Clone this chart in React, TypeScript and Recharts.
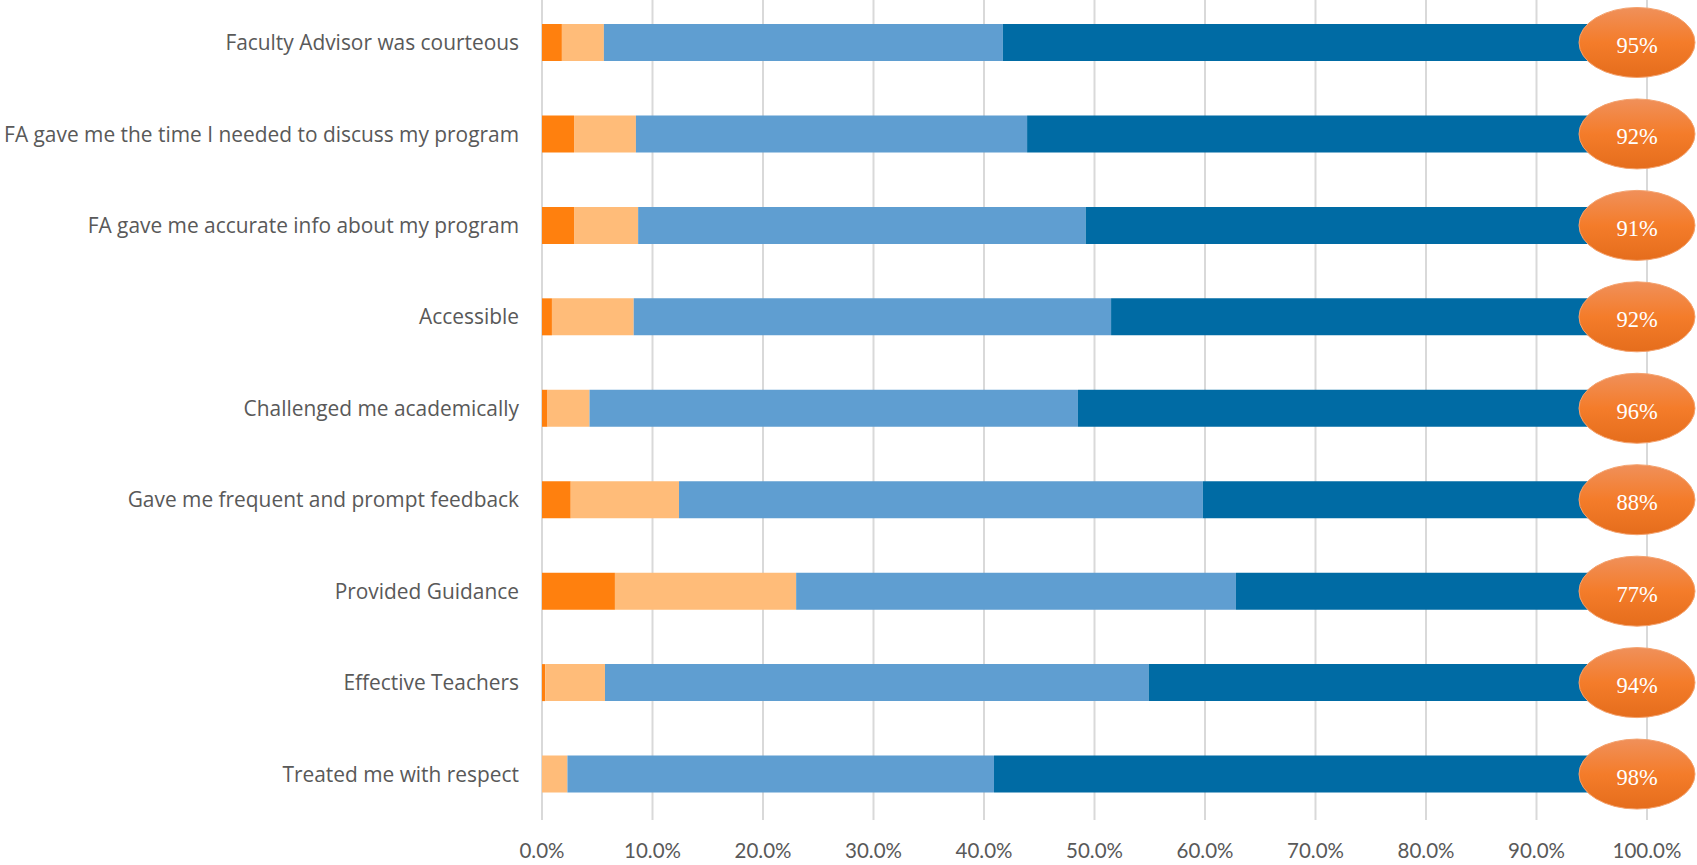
import React from 'react';
import { BarChart, Bar, XAxis, YAxis, CartesianGrid, LabelList } from 'recharts';

const categories = [
  'Faculty Advisor was courteous',
  'FA gave me the time I needed to discuss my program',
  'FA gave me accurate info about my program',
  'Accessible',
  'Challenged me academically',
  'Gave me frequent and prompt feedback',
  'Provided Guidance',
  'Effective Teachers',
  'Treated me with respect',
];

// percent of responses per category
const stronglyDisagree = [1.8, 2.9, 2.9, 0.9, 0.5, 2.6, 6.6, 0.3, 0];
const disagree = [3.8, 5.6, 5.8, 7.4, 3.8, 9.8, 16.4, 5.4, 2.3];
const agree = [36.1, 35.4, 40.5, 43.2, 44.2, 47.4, 39.8, 49.2, 38.6];
const stronglyAgree = [58.3, 56.1, 50.8, 48.5, 51.5, 40.2, 37.2, 45.1, 59.1];
const agreeBadge = ['95%', '92%', '91%', '92%', '96%', '88%', '77%', '94%', '98%'];

const xTicks = [0, 10, 20, 30, 40, 50, 60, 70, 80, 90, 100];

const COLORS = {
  stronglyDisagree: '#FF800E',
  disagree: '#FFBC79',
  agree: '#5F9ED1',
  stronglyAgree: '#006BA4',
};

const data = categories.map((name, i) => ({
  name,
  stronglyDisagree: stronglyDisagree[i],
  disagree: disagree[i],
  agree: agree[i],
  stronglyAgree: stronglyAgree[i],
  badge: agreeBadge[i],
}));

const xTickStyle = { fill: '#595959', fontSize: 20.5, fontFamily: 'Lato' };
const yTickStyle = { fill: '#595959', fontSize: 20.9, fontFamily: 'Open Sans' };

const Badge = (props: any) => {
  const { x, y, width, height, value } = props;
  const cx = x + width - 10;
  const cy = y + height / 2;
  return (
    <g>
      <ellipse cx={cx} cy={cy} rx={58} ry={35} fill="url(#badgeFill)" stroke="#F4A26E" strokeWidth={1} />
      <text
        x={cx}
        y={cy + 10.5}
        textAnchor="middle"
        fill="#ffffff"
        fontSize={22.5}
        fontFamily="Liberation Serif"
      >
        {value}
      </text>
    </g>
  );
};

export default function App() {
  return (
    <div style={{ position: 'absolute', left: 0, top: -3 }}>
      <BarChart
        layout="vertical"
        width={1697}
        height={868}
        data={data}
        margin={{ top: 0, right: 50, bottom: 0, left: 0 }}
        barSize={37}
      >
        <defs>
          <linearGradient id="badgeFill" x1="0" y1="0" x2="0" y2="1">
            <stop offset="0%" stopColor="#F0905A" />
            <stop offset="50%" stopColor="#F47C2A" />
            <stop offset="100%" stopColor="#E56D1C" />
          </linearGradient>
        </defs>
        <CartesianGrid horizontal={false} stroke="#D9D9D9" strokeWidth={2} />
        <XAxis
          type="number"
          domain={[0, 100]}
          allowDataOverflow
          ticks={xTicks}
          tickFormatter={(v: number) => `${v.toFixed(1)}%`}
          axisLine={false}
          tickLine={false}
          tickSize={0}
          tickMargin={23}
          height={45}
          tick={xTickStyle}
          interval={0}
        />
        <YAxis
          type="category"
          dataKey="name"
          width={542}
          axisLine={false}
          tickLine={false}
          tickSize={0}
          tickMargin={23}
          tick={yTickStyle}
          interval={0}
        />
        <Bar dataKey="stronglyDisagree" stackId="a" fill={COLORS.stronglyDisagree} isAnimationActive={false} />
        <Bar dataKey="disagree" stackId="a" fill={COLORS.disagree} isAnimationActive={false} />
        <Bar dataKey="agree" stackId="a" fill={COLORS.agree} isAnimationActive={false} />
        <Bar dataKey="stronglyAgree" stackId="a" fill={COLORS.stronglyAgree} isAnimationActive={false}>
          <LabelList dataKey="badge" content={<Badge />} />
        </Bar>
      </BarChart>
    </div>
  );
}
